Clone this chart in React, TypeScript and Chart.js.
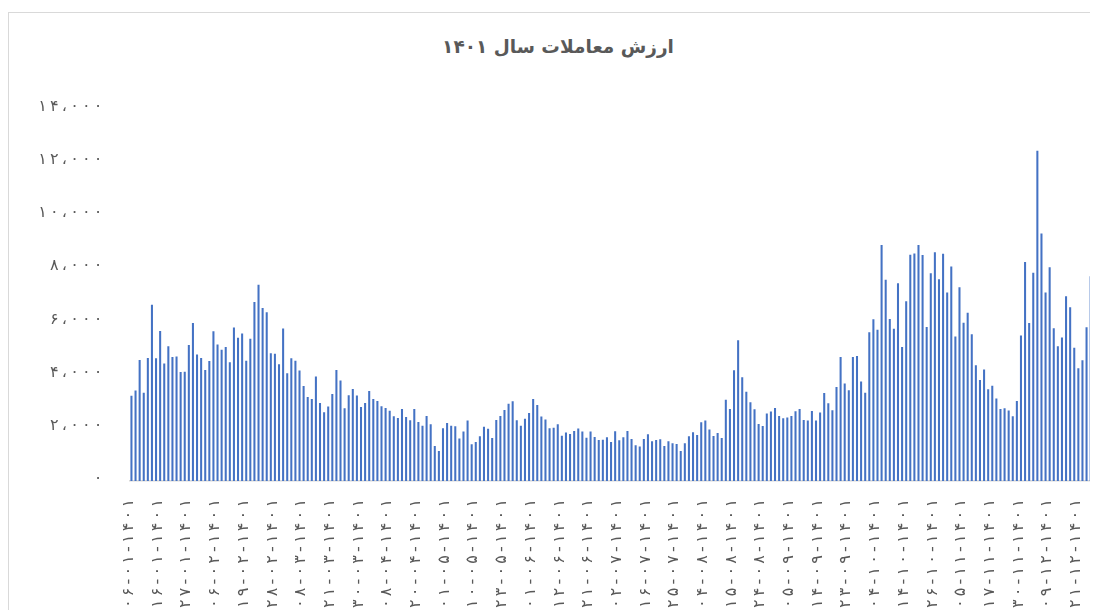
import React, { useEffect, useRef } from 'react';
import { Chart, registerables } from 'chart.js';

Chart.register(...registerables);

const chartTitle = 'ارزش معاملات سال ۱۴۰۱';

const dates: string[] = [
  '1401-01-06','1401-01-07','1401-01-08','1401-01-09','1401-01-10','1401-01-14','1401-01-15','1401-01-16','1401-01-17','1401-01-20','1401-01-21','1401-01-22','1401-01-23','1401-01-24','1401-01-27','1401-01-28','1401-01-29','1401-01-30',
  '1401-02-03','1401-02-04','1401-02-05','1401-02-06','1401-02-07','1401-02-10','1401-02-11','1401-02-12','1401-02-17','1401-02-18','1401-02-19','1401-02-20','1401-02-21','1401-02-24','1401-02-25','1401-02-26','1401-02-27','1401-02-28','1401-02-31',
  '1401-03-01','1401-03-02','1401-03-03','1401-03-04','1401-03-07','1401-03-08','1401-03-09','1401-03-10','1401-03-11','1401-03-16','1401-03-17','1401-03-18','1401-03-21','1401-03-22','1401-03-23','1401-03-24','1401-03-25','1401-03-28','1401-03-29','1401-03-30','1401-03-31',
  '1401-04-01','1401-04-04','1401-04-05','1401-04-06','1401-04-07','1401-04-08','1401-04-11','1401-04-12','1401-04-13','1401-04-14','1401-04-15','1401-04-18','1401-04-20','1401-04-21','1401-04-22','1401-04-25','1401-04-26','1401-04-28','1401-04-29',
  '1401-05-01','1401-05-02','1401-05-03','1401-05-04','1401-05-05','1401-05-08','1401-05-09','1401-05-10','1401-05-11','1401-05-12','1401-05-15','1401-05-18','1401-05-19','1401-05-22','1401-05-23','1401-05-24','1401-05-25','1401-05-26','1401-05-29','1401-05-30','1401-05-31',
  '1401-06-01','1401-06-02','1401-06-05','1401-06-06','1401-06-07','1401-06-08','1401-06-09','1401-06-12','1401-06-13','1401-06-14','1401-06-15','1401-06-16','1401-06-19','1401-06-20','1401-06-21','1401-06-22','1401-06-23','1401-06-27','1401-06-28','1401-06-29','1401-06-30',
  '1401-07-02','1401-07-04','1401-07-06','1401-07-09','1401-07-10','1401-07-11','1401-07-12','1401-07-16','1401-07-17','1401-07-18','1401-07-19','1401-07-20','1401-07-23','1401-07-24','1401-07-25','1401-07-26','1401-07-27','1401-07-30',
  '1401-08-01','1401-08-02','1401-08-03','1401-08-04','1401-08-07','1401-08-08','1401-08-09','1401-08-10','1401-08-11','1401-08-14','1401-08-15','1401-08-16','1401-08-17','1401-08-18','1401-08-21','1401-08-22','1401-08-23','1401-08-24','1401-08-25','1401-08-28','1401-08-29','1401-08-30',
  '1401-09-01','1401-09-02','1401-09-05','1401-09-06','1401-09-07','1401-09-08','1401-09-09','1401-09-12','1401-09-13','1401-09-14','1401-09-15','1401-09-16','1401-09-19','1401-09-20','1401-09-21','1401-09-22','1401-09-23','1401-09-26','1401-09-27','1401-09-28','1401-09-29','1401-09-30',
  '1401-10-03','1401-10-04','1401-10-05','1401-10-07','1401-10-10','1401-10-11','1401-10-12','1401-10-13','1401-10-14','1401-10-18','1401-10-19','1401-10-20','1401-10-21','1401-10-24','1401-10-25','1401-10-26','1401-10-27','1401-10-28',
  '1401-11-01','1401-11-02','1401-11-03','1401-11-04','1401-11-05','1401-11-08','1401-11-09','1401-11-10','1401-11-11','1401-11-12','1401-11-16','1401-11-17','1401-11-18','1401-11-19','1401-11-23','1401-11-24','1401-11-25','1401-11-26','1401-11-30',
  '1401-12-01','1401-12-02','1401-12-03','1401-12-06','1401-12-07','1401-12-08','1401-12-09','1401-12-10','1401-12-13','1401-12-14','1401-12-15','1401-12-17','1401-12-20','1401-12-21','1401-12-22','1401-12-23','1401-12-24','1401-12-27',
];

const tradeValues: number[] = [
  3200, 3400, 4550, 3320, 4620, 6620, 4610, 5640, 4420, 5060, 4660, 4680, 4100, 4110, 5110, 5940, 4750, 4620, 4170, 4510,
  5630, 5130, 4930, 5040, 4460, 5770, 5380, 5540, 4520, 5350, 6730, 7380, 6500, 6340, 4800, 4780, 4390, 5730, 4050, 4610,
  4520, 4150, 3570, 3160, 3080, 3930, 2930, 2580, 2800, 3270, 4170, 3780, 2730, 3220, 3460, 3210, 2780, 2930, 3380, 3080,
  3010, 2810, 2740, 2640, 2430, 2370, 2710, 2410, 2280, 2710, 2220, 2080, 2440, 2130, 1320, 1130, 1980, 2180, 2080, 2060,
  1600, 1860, 2270, 1380, 1470, 1680, 2040, 1960, 1620, 2290, 2440, 2670, 2900, 3000, 2280, 2080, 2340, 2560, 3080, 2860,
  2420, 2310, 1980, 2000, 2130, 1700, 1820, 1770, 1880, 1970, 1860, 1630, 1860, 1650, 1540, 1550, 1640, 1470, 1870, 1530,
  1640, 1880, 1580, 1340, 1300, 1580, 1760, 1490, 1540, 1570, 1320, 1490, 1420, 1390, 1130, 1420, 1680, 1830, 1730, 2210,
  2270, 1940, 1690, 1800, 1620, 3050, 2710, 4160, 5290, 3900, 3350, 2960, 2700, 2140, 2070, 2540, 2610, 2740, 2440, 2360,
  2390, 2440, 2620, 2710, 2290, 2270, 2630, 2270, 2570, 3310, 2920, 2660, 3530, 4660, 3660, 3410, 4660, 4700, 3740, 3320,
  5590, 6080, 5680, 8870, 7560, 6090, 5720, 7430, 5040, 6760, 8500, 8550, 8870, 8490, 5790, 7810, 8600, 7580, 8540, 7080,
  8060, 5430, 7280, 5950, 6320, 5520, 4350, 3800, 4190, 3450, 3580, 3100, 2710, 2730, 2650, 2430, 3010, 5470, 8230, 5940,
  7830, 12410, 9300, 7080, 8030, 5740, 5060, 5390, 6940, 6530, 5010, 4240, 4540, 5780, 7700, 7560,
];

const yTickValues: number[] = [0, 2000, 4000, 6000, 8000, 10000, 12000, 14000];
const labelEvery = 7;

const faDigits = '۰۱۲۳۴۵۶۷۸۹';
const THIN = '\u2009';
const toFa = (s: string) => s.replace(/\d/g, (d) => faDigits[Number(d)]);
const spaced = (s: string) => Array.from(s).join(THIN);
const fmtDate = (d: string) => {
  const [y, m, dd] = d.split('-');
  return spaced(toFa(`${dd}-${m}-${y}`));
};
const fmtNum = (n: number) =>
  spaced(toFa(Math.round(n).toLocaleString('en-US')).replace(/,/g, '،'));

const CANVAS_W = 1150;
const CANVAS_H = 640;
const PLOT_TOP = 100.5;
const PLOT_BOTTOM = 473;
const PLOT_LEFT = 121.4;
const PLOT_RIGHT = 1088.8;

export default function App() {
  const canvasRef = useRef<HTMLCanvasElement | null>(null);

  useEffect(() => {
    document.documentElement.style.overflow = 'hidden';
    const canvas = canvasRef.current;
    if (!canvas) return;
    const tickFont = { family: "'DejaVu Sans', sans-serif", size: 16 };
    const chart = new Chart(canvas, {
      type: 'bar',
      data: {
        labels: dates,
        datasets: [
          {
            data: tradeValues,
            backgroundColor: '#4472C4',
            borderWidth: 0,
            barPercentage: 0.5,
            categoryPercentage: 1.0,
          },
        ],
      },
      options: {
        responsive: false,
        animation: false,
        devicePixelRatio: 1,
        layout: {
          padding: { top: PLOT_TOP, left: 0, right: CANVAS_W - PLOT_RIGHT, bottom: 0 },
        },
        plugins: {
          legend: { display: false },
          title: { display: false },
          tooltip: { enabled: false },
        },
        scales: {
          x: {
            type: 'category',
            offset: true,
            grid: { display: false, drawTicks: false },
            border: { display: true, color: '#d9d9d9', width: 1.5 },
            ticks: {
              autoSkip: false,
              maxRotation: 90,
              minRotation: 90,
              padding: 18,
              labelOffset: -2.5,
              color: '#595959',
              font: tickFont,
              callback: (_v: any, idx: number) =>
                idx % labelEvery === 0 ? fmtDate(dates[idx]) : '',
            },
            afterFit: (scale: any) => {
              scale.height = CANVAS_H - PLOT_BOTTOM;
            },
          },
          y: {
            min: yTickValues[0],
            max: yTickValues[yTickValues.length - 1],
            grid: { display: false, drawTicks: false },
            border: { display: false },
            afterBuildTicks: (scale: any) => {
              scale.ticks = yTickValues.map((v) => ({ value: v }));
            },
            ticks: {
              padding: 27,
              labelOffset: -2,
              color: '#595959',
              font: tickFont,
              callback: (v: any) => fmtNum(Number(v)),
            },
            afterFit: (scale: any) => {
              scale.width = PLOT_LEFT;
            },
          },
        },
      },
    } as any);
    return () => {
      chart.destroy();
    };
  }, []);

  return (
    <div style={{ position: 'relative', width: 1090, height: 602, overflow: 'hidden' }}>
      <div
        style={{
          position: 'absolute',
          left: 0,
          top: 4,
          width: 1200,
          height: 800,
          borderTop: '1px solid #d9d9d9',
          borderLeft: '1px solid #d9d9d9',
          boxSizing: 'border-box',
        }}
      />
      <div
        dir="rtl"
        style={{
          position: 'absolute',
          left: 0,
          top: 28,
          width: 1100,
          textAlign: 'center',
          fontFamily: "'DejaVu Sans', sans-serif",
          fontWeight: 'bold',
          fontSize: 18.5,
          lineHeight: '22px',
          color: '#595959',
          whiteSpace: 'nowrap',
        }}
      >
        {chartTitle}
      </div>
      <canvas
        ref={canvasRef}
        width={CANVAS_W}
        height={CANVAS_H}
        style={{ position: 'absolute', left: 0, top: 0, display: 'block', width: CANVAS_W, height: CANVAS_H }}
      />
    </div>
  );
}
